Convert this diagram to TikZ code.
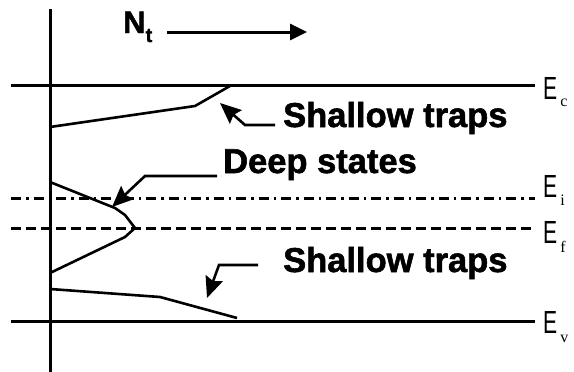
\documentclass[tikz,border=0pt]{standalone}
\usepackage{fontspec}
\setmainfont{Liberation Sans}
\newfontfamily\subfont{Liberation Serif}
\newfontfamily\heavy[FakeBold=1.6]{Liberation Sans Bold}
\usetikzlibrary{arrows.meta}
\begin{document}
\begin{tikzpicture}[x=1pt,y=-1pt,
  level/.style={line width=3pt},
  curve/.style={line width=2.6pt, line join=round},
  lead/.style={line width=2.6pt, line join=miter, -{Stealth[length=21pt,width=18pt,inset=3pt]}},
  lbl/.style={font=\fontsize{34.5}{36}\selectfont\heavy, anchor=base west, inner sep=0pt},
  elbl/.style={anchor=base west, inner sep=0pt, font=\fontsize{32}{32}\selectfont}]
\useasboundingbox (0,0) rectangle (574,372);
\fill[white] (0,0) rectangle (574,372);
% axis
\coordinate (axT) at (50,9);
\coordinate (axB) at (50,372);
\draw[level] (axT) -- (axB);
% levels
\coordinate (ecL) at (11,85);  \coordinate (ecR) at (535,85);
\coordinate (eiL) at (11,198); \coordinate (eiR) at (535,198);
\coordinate (efL) at (11,228); \coordinate (efR) at (535,228);
\coordinate (evL) at (11,321); \coordinate (evR) at (535,321);
\draw[level] (ecL) -- (ecR);
\draw[level, dash pattern=on 10pt off 5pt on 2.5pt off 5pt] (eiL) -- (eiR);
\draw[level, dash pattern=on 10pt off 5pt] (efL) -- (efR);
\draw[level] (evL) -- (evR);
% level labels
\node[elbl] (ec) at (543,99) {\scalebox{0.66}[1]{E}\hspace{3pt}\raisebox{-7pt}{\subfont\fontsize{16}{16}\selectfont c}};
\node[elbl] (ei) at (543,197) {\scalebox{0.66}[1]{E}\hspace{3pt}\raisebox{-8pt}{\subfont\fontsize{16}{16}\selectfont i}};
\node[elbl] (ef) at (543,243) {\scalebox{0.66}[1]{E}\hspace{3pt}\raisebox{-9pt}{\subfont\fontsize{16}{16}\selectfont f}};
\node[elbl] (ev) at (543,333) {\scalebox{0.66}[1]{E}\hspace{3pt}\raisebox{-9pt}{\subfont\fontsize{16}{16}\selectfont v}};
% N_t
\node[anchor=base west, inner sep=0pt, font=\heavy\fontsize{31}{31}\selectfont] (nt) at (123,33) {N\raisebox{-9pt}{\fontsize{20}{20}\selectfont t}};
\coordinate (ntA) at (167,32);
\coordinate (ntB) at (307,32);
\draw[line width=3pt, -{Triangle[length=17pt,width=16pt]}] (ntA) -- (ntB);
% density curves
\draw[curve] (50,127) -- (195,106) -- (230,86);
\draw[curve] (50,182) -- (115,208) -- (125,215) -- (135,228) -- (125,237) -- (50,273);
\draw[curve] (50,289) -- (160,297) -- (237,318);
% labels
\node[lbl] (st1) at (283,127) {Shallow traps};
\node[lbl] (ds) at (223,173) {Deep states};
\node[lbl] (st2) at (283,272) {Shallow traps};
% leaders
\coordinate (l1a) at (275,125); \coordinate (l1b) at (245,125); \coordinate (l1c) at (220,103);
\draw[lead] (l1a) -- (l1b) -- (l1c);
\coordinate (l2a) at (217,176); \coordinate (l2b) at (145,176); \coordinate (l2c) at (112,207);
\draw[lead] (l2a) -- (l2b) -- (l2c);
\coordinate (l3a) at (258,265); \coordinate (l3b) at (219,265); \coordinate (l3c) at (207,298);
\draw[lead] (l3a) -- (l3b) -- (l3c);
\end{tikzpicture}
\end{document}
